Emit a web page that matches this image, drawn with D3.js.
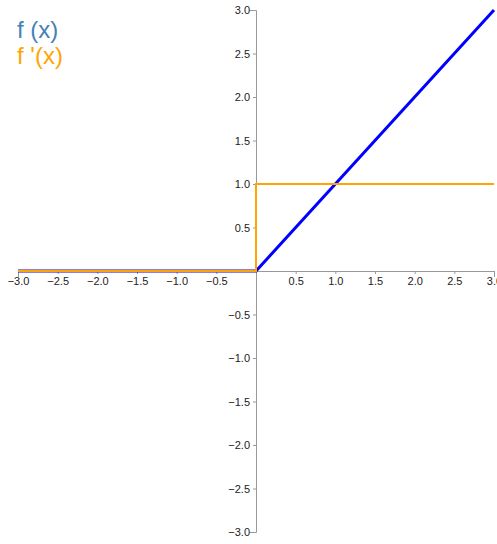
<!DOCTYPE html>
<html>
<head>
<meta charset="utf-8">
<script src="https://cdn.jsdelivr.net/npm/d3@7"></script>
<style>
  body { margin: 0; background: #fff; }
  svg { display: block; font-family: "Liberation Sans", Arial, sans-serif; }
  .axis path, .axis line { stroke: #999; }
  .axis text { fill: #222; font-size: 11px; }
</style>
</head>
<body>
<svg id="chart" width="497" height="544"></svg>
<script>
// ReLU and its derivative on [-3, 3]
const xDomain = [-3, 3];
const yDomain = [-3, 3];
const tickValues = [-3, -2.5, -2, -1.5, -1, -0.5, 0.5, 1, 1.5, 2, 2.5, 3];
const reluX = [-3, 0, 3];
const reluY = [0, 0, 3];
const derivX = [-3, 0, 0, 3];
const derivY = [0, 0, 1, 1];
const legendLabels = ["f (x)", "f '(x)"];
const legendColors = ["#4682b4", "#ffa500"];

const svg = d3.select("#chart");
const x = d3.scaleLinear().domain(xDomain).range([18, 494]);
const y = d3.scaleLinear().domain(yDomain).range([532, 10]);

const fmt = d3.format(".1f");

svg.append("g")
  .attr("class", "axis")
  .attr("transform", `translate(0,${y(0)})`)
  .call(d3.axisBottom(x).tickValues(tickValues).tickFormat(fmt).tickSize(3).tickSizeOuter(6))
  .call(g => g.selectAll("line").attr("stroke", "#ccc"));

svg.append("g")
  .attr("class", "axis")
  .attr("transform", `translate(${x(0)},0)`)
  .call(d3.axisLeft(y).tickValues(tickValues).tickFormat(fmt).tickSize(3).tickSizeOuter(6))
  .call(g => g.selectAll("line").attr("stroke", "#ccc"));

const line = d3.line().x(d => x(d[0])).y(d => y(d[1]));

svg.append("path")
  .datum(d3.zip(reluX, reluY))
  .attr("d", line)
  .attr("fill", "none")
  .attr("stroke", "#0000ff")
  .attr("stroke-width", 3);

svg.append("path")
  .datum(d3.zip(derivX, derivY))
  .attr("d", line)
  .attr("fill", "none")
  .attr("stroke", "#ffa500")
  .attr("stroke-width", 2);

svg.selectAll("text.legend")
  .data(legendLabels)
  .join("text")
  .attr("class", "legend")
  .attr("x", 17)
  .attr("y", (d, i) => 38 + i * 26)
  .attr("fill", (d, i) => legendColors[i])
  .attr("font-size", 24)
  .text(d => d);
</script>
</body>
</html>
